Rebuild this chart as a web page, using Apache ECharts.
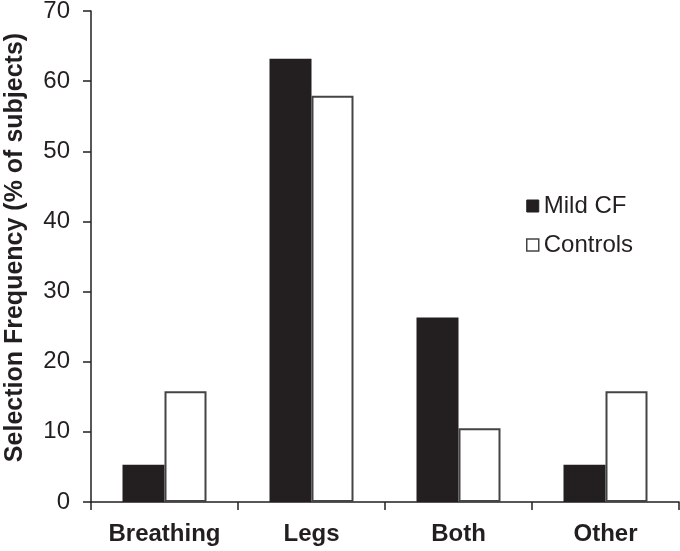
<!DOCTYPE html>
<html>
<head>
<meta charset="utf-8">
<script src="https://cdn.jsdelivr.net/npm/echarts@6/dist/echarts.min.js"></script>
<style>html,body{margin:0;padding:0;background:#fff}#c{width:680px;height:551px}</style>
</head>
<body>
<div id="c"></div>
<script>
var categories = ['Breathing', 'Legs', 'Both', 'Other'];
var mildCF = [5.3, 63.2, 26.3, 5.3];
var controls = [15.8, 57.9, 10.5, 15.8];
var yTicks = [0, 10, 20, 30, 40, 50, 60, 70];

var ink = '#231f20';
var font = '"Liberation Sans", Arial, sans-serif';
var chart = echarts.init(document.getElementById('c'), null, {renderer: 'canvas'});
chart.setOption({
  animation: false,
  backgroundColor: '#fff',
  grid: {left: 91, right: 1, top: 11, bottom: 49, containLabel: false, outerBoundsMode: 'none'},
  legend: {
    orient: 'vertical', left: 521, top: 189, itemGap: 15,
    itemWidth: 12, itemHeight: 12,
    textStyle: {fontSize: 24, color: ink, fontFamily: font},
    data: [
      {name: 'Mild CF', icon: 'rect', itemStyle: {color: ink, borderColor: ink, borderWidth: 1}},
      {name: 'Controls', icon: 'rect', itemStyle: {color: '#fff', borderColor: '#444', borderWidth: 1.5}}
    ]
  },
  xAxis: {
    type: 'category', data: categories,
    axisLine: {lineStyle: {color: ink, width: 1.5}},
    axisTick: {show: true, interval: 0, length: 8, lineStyle: {color: ink, width: 1.5}, alignWithLabel: false},
    axisLabel: {interval: 0, hideOverlap: false, fontSize: 24, fontWeight: 'bold', color: ink, fontFamily: font, margin: 20}
  },
  yAxis: {
    type: 'value', min: yTicks[0], max: yTicks[yTicks.length - 1], interval: 10,
    name: 'Selection Frequency (% of subjects)', nameLocation: 'middle', nameGap: 63,
    nameTextStyle: {fontSize: 25, fontWeight: 'bold', color: ink, fontFamily: font, padding: [0, 0, 0, 18]},
    axisLine: {show: true, lineStyle: {color: ink, width: 1.5}},
    axisTick: {show: true, length: 8, lineStyle: {color: ink, width: 1.5}},
    splitLine: {show: false},
    axisLabel: {fontSize: 24, color: ink, fontFamily: font, margin: 21}
  },
  series: [
    {name: 'Mild CF', type: 'bar', data: mildCF, barWidth: 42, barGap: '0%',
     itemStyle: {color: ink, borderColor: ink, borderWidth: 0}},
    {name: 'Controls', type: 'bar', data: controls, barWidth: 42, barGap: '0%',
     itemStyle: {color: '#fff', borderColor: '#444', borderWidth: 2}}
  ]
});
</script>
</body>
</html>
